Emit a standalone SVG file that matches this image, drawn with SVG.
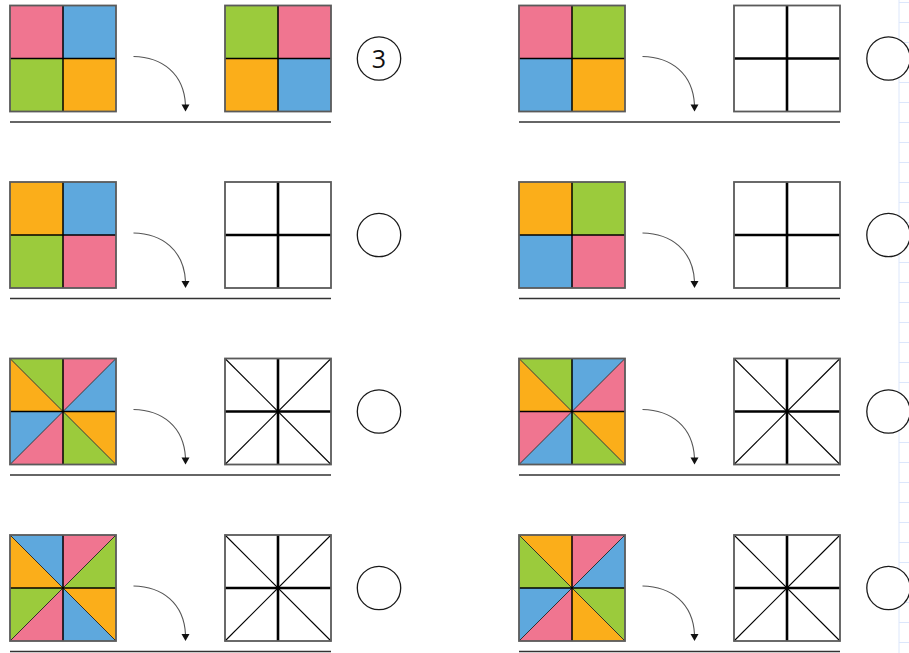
<svg xmlns="http://www.w3.org/2000/svg" xmlns:xlink="http://www.w3.org/1999/xlink" width="909" height="653" viewBox="0 0 909 653">
<style>
.p{fill:#F07590}.b{fill:#5EA8DD}.g{fill:#9BCB3C}.o{fill:#FBAE1A}
.frame{fill:none;stroke:#5a5a5a;stroke-width:1.8}
.mid{stroke:#000;stroke-width:1.5}
.dia{stroke:#222;stroke-width:0.9}
.wmid{stroke:#000;stroke-width:2.6}
.wdia{stroke:#000;stroke-width:1.1}
.under{stroke:#333;stroke-width:1.6}
.circ{fill:#fff;stroke:#1a1a1a;stroke-width:1.3}
.arr{fill:none;stroke:#555;stroke-width:1.1}
.num{font-family:"Open Sans","Noto Sans",sans-serif;font-size:25px;fill:#111;text-anchor:middle}
.grid{stroke:#dce7fb;stroke-width:1}
</style>
<defs>
<g id="mid4"><line class="mid" x1="53" y1="0" x2="53" y2="106"/><line class="mid" x1="0" y1="53" x2="106" y2="53"/><rect class="frame" x="0" y="0" width="106" height="106"/></g>
<g id="mid8"><line class="dia" x1="0" y1="0" x2="106" y2="106"/><line class="dia" x1="106" y1="0" x2="0" y2="106"/><line class="mid" x1="53" y1="0" x2="53" y2="106"/><line class="mid" x1="0" y1="53" x2="106" y2="53"/><rect class="frame" x="0" y="0" width="106" height="106"/></g>
<g id="white4"><rect x="0" y="0" width="106" height="106" fill="#fff"/><line class="wmid" x1="53" y1="0" x2="53" y2="106"/><line class="wmid" x1="0" y1="53" x2="106" y2="53"/><rect class="frame" x="0" y="0" width="106" height="106"/></g>
<g id="white8"><rect x="0" y="0" width="106" height="106" fill="#fff"/><line class="wdia" x1="0" y1="0" x2="106" y2="106"/><line class="wdia" x1="106" y1="0" x2="0" y2="106"/><line class="wmid" x1="53" y1="0" x2="53" y2="106"/><line class="wmid" x1="0" y1="53" x2="106" y2="53"/><rect class="frame" x="0" y="0" width="106" height="106"/></g>
<polygon id="T1" points="53,53 0,0 53,0"/>
<polygon id="T2" points="53,53 53,0 106,0"/>
<polygon id="T3" points="53,53 106,0 106,53"/>
<polygon id="T4" points="53,53 106,53 106,106"/>
<polygon id="T5" points="53,53 106,106 53,106"/>
<polygon id="T6" points="53,53 53,106 0,106"/>
<polygon id="T7" points="53,53 0,106 0,53"/>
<polygon id="T8" points="53,53 0,53 0,0"/>
<g id="arrowShape"><path class="arr" d="M123.5,51 C152,51.5 174,68 175.5,99.5"/><polygon points="171.5,99 179.5,99 175.5,106" fill="#111"/></g>
</defs>

<g id="bggrid">
<line class="grid" x1="899" y1="0" x2="899" y2="653"/>
<path class="grid" d="M899,2.5H909M899,22.5H909M899,42.5H909M899,62.5H909M899,82.5H909M899,102.5H909M899,122.5H909M899,142.5H909M899,162.5H909M899,182.5H909M899,202.5H909M899,222.5H909M899,242.5H909M899,262.5H909M899,282.5H909M899,302.5H909M899,322.5H909M899,342.5H909M899,362.5H909M899,382.5H909M899,402.5H909M899,422.5H909M899,442.5H909M899,462.5H909M899,482.5H909M899,502.5H909M899,522.5H909M899,542.5H909M899,562.5H909M899,582.5H909M899,602.5H909M899,622.5H909M899,642.5H909"/>
</g>

<g id="r1l-src" transform="translate(10,5.5)">
<rect class="p" x="0" y="0" width="53" height="53"/><rect class="b" x="53" y="0" width="53" height="53"/><rect class="g" x="0" y="53" width="53" height="53"/><rect class="o" x="53" y="53" width="53" height="53"/>
<use href="#mid4"/>
</g>
<g id="r1l-ans" transform="translate(225,5.5)">
<rect class="g" x="0" y="0" width="53" height="53"/><rect class="p" x="53" y="0" width="53" height="53"/><rect class="o" x="0" y="53" width="53" height="53"/><rect class="b" x="53" y="53" width="53" height="53"/>
<use href="#mid4"/>
</g>
<g id="r1l-circle"><circle class="circ" cx="379" cy="58.5" r="21.7"/><text class="num" x="379" y="67.5">3</text></g>

<g id="r1r-src" transform="translate(519,5.5)">
<rect class="p" x="0" y="0" width="53" height="53"/><rect class="g" x="53" y="0" width="53" height="53"/><rect class="b" x="0" y="53" width="53" height="53"/><rect class="o" x="53" y="53" width="53" height="53"/>
<use href="#mid4"/>
</g>
<g id="r1r-ans" transform="translate(734,5.5)"><use href="#white4"/></g>
<g id="r1r-circle"><circle class="circ" cx="888.5" cy="58.5" r="21.7"/></g>

<g id="r2l-src" transform="translate(10,182)">
<rect class="o" x="0" y="0" width="53" height="53"/><rect class="b" x="53" y="0" width="53" height="53"/><rect class="g" x="0" y="53" width="53" height="53"/><rect class="p" x="53" y="53" width="53" height="53"/>
<use href="#mid4"/>
</g>
<g id="r2l-ans" transform="translate(225,182)"><use href="#white4"/></g>
<g id="r2l-circle"><circle class="circ" cx="379" cy="235" r="21.7"/></g>

<g id="r2r-src" transform="translate(519,182)">
<rect class="o" x="0" y="0" width="53" height="53"/><rect class="g" x="53" y="0" width="53" height="53"/><rect class="b" x="0" y="53" width="53" height="53"/><rect class="p" x="53" y="53" width="53" height="53"/>
<use href="#mid4"/>
</g>
<g id="r2r-ans" transform="translate(734,182)"><use href="#white4"/></g>
<g id="r2r-circle"><circle class="circ" cx="888.5" cy="235" r="21.7"/></g>

<g id="r3l-src" transform="translate(10,358.5)">
<use href="#T1" class="g"/><use href="#T2" class="p"/><use href="#T3" class="b"/><use href="#T4" class="o"/><use href="#T5" class="g"/><use href="#T6" class="p"/><use href="#T7" class="b"/><use href="#T8" class="o"/>
<use href="#mid8"/>
</g>
<g id="r3l-ans" transform="translate(225,358.5)"><use href="#white8"/></g>
<g id="r3l-circle"><circle class="circ" cx="379" cy="411.5" r="21.7"/></g>

<g id="r3r-src" transform="translate(519,358.5)">
<use href="#T1" class="g"/><use href="#T2" class="b"/><use href="#T3" class="p"/><use href="#T4" class="o"/><use href="#T5" class="g"/><use href="#T6" class="b"/><use href="#T7" class="p"/><use href="#T8" class="o"/>
<use href="#mid8"/>
</g>
<g id="r3r-ans" transform="translate(734,358.5)"><use href="#white8"/></g>
<g id="r3r-circle"><circle class="circ" cx="888.5" cy="411.5" r="21.7"/></g>

<g id="r4l-src" transform="translate(10,535)">
<use href="#T1" class="b"/><use href="#T2" class="p"/><use href="#T3" class="g"/><use href="#T4" class="o"/><use href="#T5" class="b"/><use href="#T6" class="p"/><use href="#T7" class="g"/><use href="#T8" class="o"/>
<use href="#mid8"/>
</g>
<g id="r4l-ans" transform="translate(225,535)"><use href="#white8"/></g>
<g id="r4l-circle"><circle class="circ" cx="379" cy="588" r="21.7"/></g>

<g id="r4r-src" transform="translate(519,535)">
<use href="#T1" class="o"/><use href="#T2" class="p"/><use href="#T3" class="b"/><use href="#T4" class="g"/><use href="#T5" class="o"/><use href="#T6" class="p"/><use href="#T7" class="b"/><use href="#T8" class="g"/>
<use href="#mid8"/>
</g>
<g id="r4r-ans" transform="translate(734,535)"><use href="#white8"/></g>
<g id="r4r-circle"><circle class="circ" cx="888.5" cy="588" r="21.7"/></g>

<g id="connectors">
<use href="#arrowShape" transform="translate(10,5.5)"/>
<use href="#arrowShape" transform="translate(519,5.5)"/>
<use href="#arrowShape" transform="translate(10,182)"/>
<use href="#arrowShape" transform="translate(519,182)"/>
<use href="#arrowShape" transform="translate(10,358.5)"/>
<use href="#arrowShape" transform="translate(519,358.5)"/>
<use href="#arrowShape" transform="translate(10,535)"/>
<use href="#arrowShape" transform="translate(519,535)"/>
</g>

<g id="underlines">
<line class="under" x1="10" y1="122" x2="331" y2="122"/>
<line class="under" x1="519" y1="122" x2="840" y2="122"/>
<line class="under" x1="10" y1="298.5" x2="331" y2="298.5"/>
<line class="under" x1="519" y1="298.5" x2="840" y2="298.5"/>
<line class="under" x1="10" y1="475" x2="331" y2="475"/>
<line class="under" x1="519" y1="475" x2="840" y2="475"/>
<line class="under" x1="10" y1="651.5" x2="331" y2="651.5"/>
<line class="under" x1="519" y1="651.5" x2="840" y2="651.5"/>
</g>
</svg>
